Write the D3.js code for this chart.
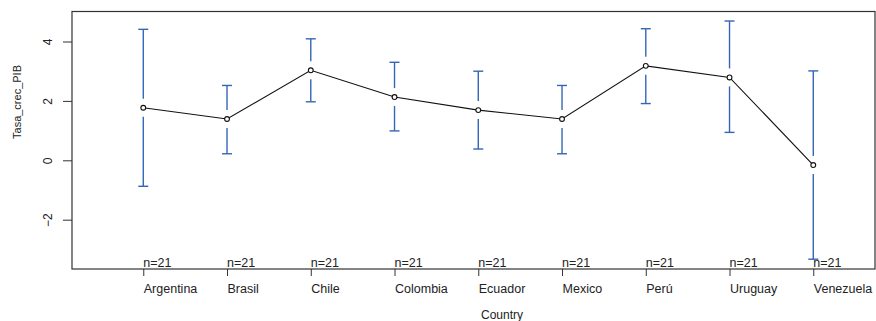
<!DOCTYPE html>
<html><head><meta charset="utf-8">
<script src="https://cdn.jsdelivr.net/npm/d3@7"></script>
<style>body{margin:0;background:#fff}svg{display:block}text{font-family:"Liberation Sans",Arial,sans-serif;fill:#222}</style>
</head><body><svg id="c" width="876" height="321"></svg>
<script>
const countries = ["Argentina","Brasil","Chile","Colombia","Ecuador","Mexico","Perú","Uruguay","Venezuela"];
const means = [1.77,1.39,3.03,2.13,1.69,1.39,3.18,2.79,-0.16];
const upper = [4.41,2.52,4.09,3.30,3.00,2.52,4.43,4.69,3.01];
const lower = [-0.875,0.22,1.97,0.99,0.38,0.22,1.91,0.94,-3.33];
const nLabels = ["n=21","n=21","n=21","n=21","n=21","n=21","n=21","n=21","n=21"];
const yTicks = [-2,0,2,4];

const svg = d3.select("#c");
const L=72, R=875, T=11.5, B=269;
const x = d3.scaleLinear().domain([0.149,9.737]).range([L,R]);
const y = d3.scaleLinear().domain([(160.3-269)/29.7,(160.3-11.5)/29.7]).range([B,T]);
const blue = "#3566b5";

// box
svg.append("rect").attr("x",L).attr("y",T).attr("width",R-L).attr("height",B-T)
  .attr("fill","none").attr("stroke","#333").attr("stroke-width",1.2);

// y axis
const ya = svg.append("g").attr("transform",`translate(${L},0)`)
  .call(d3.axisLeft(y).tickValues(yTicks).tickSize(9).tickFormat(d3.format("d")));
ya.select(".domain").remove();
ya.selectAll("line").attr("stroke","#333");
ya.selectAll("text").attr("x",null).attr("dy",null).attr("y",0)
  .attr("text-anchor","middle").style("font-size","12px").style("font-family",'"Liberation Sans",Arial,sans-serif')
  .attr("fill","#222")
  .attr("transform","translate(-20,0) rotate(-90)");

// x axis
const idx = countries.map((c,i)=>i+1);
const xa = svg.append("g").attr("transform",`translate(0,${B})`)
  .call(d3.axisBottom(x).tickValues(idx).tickSize(7).tickFormat((d)=>countries[d-1]));
xa.select(".domain").remove();
xa.selectAll("line").attr("stroke","#333");
xa.selectAll("text").attr("text-anchor","start").attr("y",24).attr("dy",0)
  .style("font-size","12.5px").style("font-family",'"Liberation Sans",Arial,sans-serif').attr("fill","#222");

// labels
svg.append("text").attr("transform","translate(20.5,102) rotate(-90)").attr("text-anchor","middle")
  .style("font-size","11px").text("Tasa_crec_PIB");
svg.append("text").attr("x",502).attr("y",319).attr("text-anchor","middle")
  .style("font-size","12px").text("Country");

// error bars
const gap = 9, cap = 5;
const g = svg.append("g");
countries.forEach((c,i)=>{
  const cx = x(i+1), ym = y(means[i]);
  g.append("line").attr("x1",cx).attr("x2",cx).attr("y1",y(upper[i])).attr("y2",ym-gap)
    .attr("stroke",blue).attr("stroke-width",1.4);
  g.append("line").attr("x1",cx).attr("x2",cx).attr("y1",ym+gap).attr("y2",y(lower[i]))
    .attr("stroke",blue).attr("stroke-width",1.4);
  [upper[i],lower[i]].forEach(v=>{
    g.append("line").attr("x1",cx-cap).attr("x2",cx+cap).attr("y1",y(v)).attr("y2",y(v))
      .attr("stroke",blue).attr("stroke-width",1.4);
  });
});

// mean line
svg.append("path").datum(means)
  .attr("d",d3.line().x((d,i)=>x(i+1)).y(d=>y(d)))
  .attr("fill","none").attr("stroke","#111").attr("stroke-width",1.1);
svg.selectAll("circle.m").data(means).join("circle").attr("class","m")
  .attr("cx",(d,i)=>x(i+1)).attr("cy",d=>y(d)).attr("r",2.4)
  .attr("fill","#fff").attr("stroke","#111").attr("stroke-width",1.1);

// n labels
svg.selectAll("text.n").data(nLabels).join("text").attr("class","n")
  .attr("x",(d,i)=>x(i+1)).attr("y",267).attr("text-anchor","start")
  .style("font-size","12.5px").text(d=>d);
</script></body></html>
